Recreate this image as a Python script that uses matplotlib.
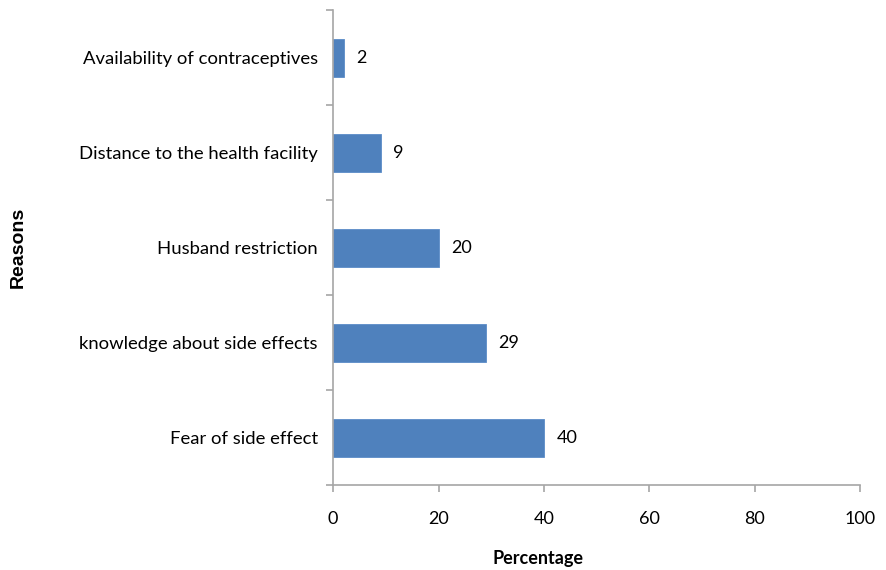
import matplotlib.pyplot as plt
from matplotlib.ticker import FixedLocator

reasons = [
    "Fear of side effect",
    "knowledge about side effects",
    "Husband restriction",
    "Distance to the health facility",
    "Availability of contraceptives",
]
percent = [40, 29, 20, 9, 2]
x_ticks = [0, 20, 40, 60, 80, 100]

bar_color = "#4F81BD"
spine_color = "#A6A6A6"

fig = plt.figure(figsize=(8.86, 5.70), dpi=100)
ax = fig.add_axes([0.376, 0.149, 0.595, 0.833])

pos = list(range(len(reasons)))
bars = ax.barh(pos, percent, height=0.4, color=bar_color, edgecolor="#5B8CC8", linewidth=0.6)

for b, v in zip(bars, percent):
    ax.annotate(f"{v}", (b.get_width(), b.get_y() + b.get_height() / 2),
                xytext=(9, 0), textcoords="offset points", va="center", ha="left",
                fontsize=13, family="Lato", color="black")

ax.set_xlim(0, 100)
ax.set_ylim(-0.5, len(reasons) - 0.5)
ax.set_xticks(x_ticks)
ax.set_yticks(pos)
ax.set_yticklabels(reasons, family="Lato", fontsize=13.3)
ax.yaxis.set_minor_locator(FixedLocator([p + 0.5 for p in range(-1, len(reasons))]))

for s in ["top", "right"]:
    ax.spines[s].set_visible(False)
for s in ["left", "bottom"]:
    ax.spines[s].set_color(spine_color)
    ax.spines[s].set_linewidth(1.2)

ax.tick_params(axis="y", which="major", length=0, pad=11)
ax.tick_params(axis="y", which="minor", length=5, color=spine_color, width=1.2, direction="out")
ax.tick_params(axis="x", length=5, color=spine_color, width=1.2, direction="out", pad=14)
for lbl in ax.get_xticklabels():
    lbl.set_family("Lato")
    lbl.set_fontsize(13)

ax.set_xlabel("Percentage", family="Lato", fontweight="bold", fontsize=13, va="center")
ax.xaxis.set_label_coords(0.388, -0.154)
ax.set_ylabel("Reasons", family="Liberation Sans", fontweight="bold", fontsize=14, va="center")
ax.yaxis.set_label_coords(-0.597, 0.5)

fig.savefig("out.png", dpi=100)
